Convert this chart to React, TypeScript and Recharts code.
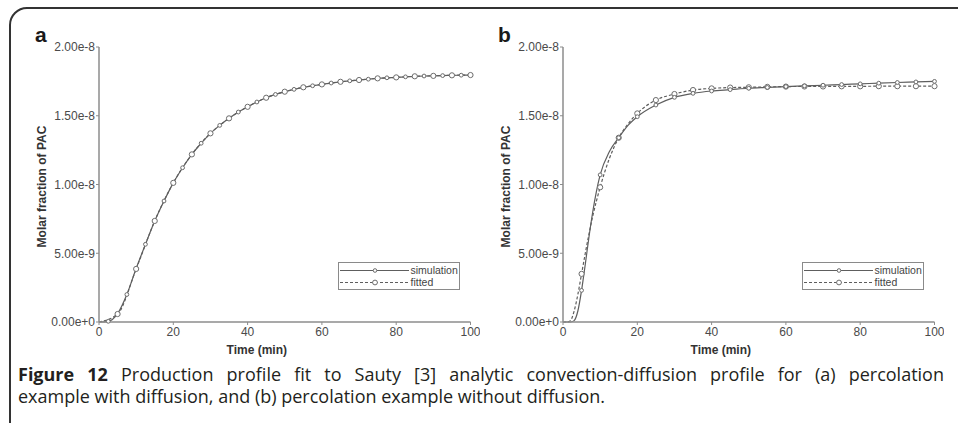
import React from 'react';
import { LineChart, Line, XAxis, YAxis } from 'recharts';

// ---- data (molar fraction in units of 1e-8) ----
const timeA = [0, 2.5, 5, 7.5, 10, 12.5, 15, 17.5, 20, 22.5, 25, 27.5, 30, 32.5, 35, 37.5, 40, 42.5, 45, 47.5, 50, 52.5, 55, 57.5, 60, 62.5, 65, 67.5, 70, 72.5, 75, 77.5, 80, 82.5, 85, 87.5, 90, 92.5, 95, 97.5, 100];
const simA = [0, 0.005, 0.061, 0.2, 0.389, 0.565, 0.735, 0.88, 1.012, 1.122, 1.219, 1.3, 1.372, 1.43, 1.481, 1.527, 1.565, 1.6, 1.631, 1.655, 1.675, 1.692, 1.707, 1.718, 1.728, 1.738, 1.747, 1.754, 1.76, 1.766, 1.772, 1.776, 1.779, 1.783, 1.787, 1.789, 1.79, 1.792, 1.794, 1.795, 1.796];
const fitTimeA = [0, 5, 10, 15, 20, 25, 30, 35, 40, 45, 50, 55, 60, 65, 70, 75, 80, 85, 90, 95, 100];
const fitA = [0, 0.058, 0.386, 0.735, 1.012, 1.219, 1.372, 1.481, 1.565, 1.631, 1.675, 1.707, 1.728, 1.747, 1.76, 1.772, 1.779, 1.787, 1.79, 1.794, 1.796];

const timeB = [0, 1, 2, 3, 4, 5, 6, 7, 8, 9, 10, 12.5, 15, 17.5, 20, 25, 30, 35, 40, 45, 50, 55, 60, 65, 70, 75, 80, 85, 90, 95, 100];
const simB = [0, 0, 0, 0.01, 0.08, 0.23, 0.42, 0.62, 0.8, 0.95, 1.07, 1.24, 1.34, 1.43, 1.493, 1.578, 1.634, 1.663, 1.68, 1.69, 1.7, 1.706, 1.712, 1.717, 1.722, 1.727, 1.732, 1.737, 1.742, 1.746, 1.75];
const fitB = [0, 0, 0.01, 0.08, 0.2, 0.35, 0.5, 0.64, 0.77, 0.88, 0.98, 1.19, 1.34, 1.44, 1.517, 1.614, 1.658, 1.687, 1.699, 1.705, 1.707, 1.71, 1.712, 1.713, 1.713, 1.714, 1.714, 1.715, 1.715, 1.715, 1.715];

const xTicks = [0, 20, 40, 60, 80, 100];
const yTicks = [0, 0.5, 1, 1.5, 2];
const yTickLabels = ['0.00e+0', '5.00e-9', '1.00e-8', '1.50e-8', '2.00e-8'];
const seriesNames = ['simulation', 'fitted'];
const panelLetters = ['a', 'b'];

const FONT = '"Liberation Sans", Arial, Helvetica, sans-serif';
const LINE = '#5e5e5e';
const MARK = '#6c6c6c';
const AXIS = '#8c8c8c';

const toRows = (ts: number[], vs: number[]) => vs.map((v, i) => ({ t: ts[i], v }));

const makeDot = (r: number, test: (t: number, i: number) => boolean) => (p: any) => {
  const { cx, cy, index, payload } = p;
  if (cx == null || cy == null || !test(payload.t, index)) return <g key={'e' + index} />;
  return <circle key={'d' + index} cx={cx} cy={cy} r={r} fill="#fff" stroke={MARK} strokeWidth={1} />;
};

const YTitle = (props: any) => {
  const vb = props.viewBox || { x: 0, y: 0, width: 99, height: 275 };
  const x = vb.x + vb.width - 57;
  const y = vb.y + vb.height / 2 + 2;
  return (
    <text x={x} y={y} transform={`rotate(-90, ${x}, ${y})`} textAnchor="middle" dominantBaseline="central"
      fontFamily={FONT} fontWeight="bold" fontSize={12} fill="#333">Molar fraction of PAC</text>
  );
};

const XTitle = (props: any) => {
  const vb = props.viewBox || { x: 99, y: 322, width: 371, height: 36 };
  return (
    <text x={vb.x + vb.width / 2 - 28} y={vb.y + 32} textAnchor="middle"
      fontFamily={FONT} fontWeight="bold" fontSize={12} fill="#333">Time (min)</text>
  );
};

function LegendBox({ left, top }: { left: number; top: number }) {
  return (
    <div style={{ position: 'absolute', left, top, width: 120, height: 26, border: '1px solid #8a8a8a', background: '#fff', fontFamily: FONT, fontSize: 10.5, color: '#444' }}>
      <svg width={120} height={26} style={{ position: 'absolute', left: 0, top: 0 }}>
        <line x1={1} x2={70} y1={7.5} y2={7.5} stroke={LINE} strokeWidth={1.2} />
        <circle cx={36} cy={7.5} r={1.8} fill="#fff" stroke={MARK} />
        <line x1={1} x2={70} y1={19.5} y2={19.5} stroke={LINE} strokeWidth={1.2} strokeDasharray="3 2" />
        <circle cx={36} cy={19.5} r={2.4} fill="#fff" stroke={MARK} />
        <text x={71.5} y={11.2} fontFamily={FONT} fontSize={10.5} fill="#444">{seriesNames[0]}</text>
        <text x={71.5} y={23.2} fontFamily={FONT} fontSize={10.5} fill="#444">{seriesNames[1]}</text>
      </svg>
    </div>
  );
}

function Panel({ left, sim, fit, simTest, fitTest, letter }: any) {
  return (
    <div style={{ position: 'absolute', left, top: 0, width: 480, height: 370 }}>
      <LineChart width={480} height={370} margin={{ top: 47, right: 9.5, bottom: 12, left: 0 }}>
        <XAxis xAxisId="top" orientation="top" type="number" dataKey="t" domain={[0, 100]} height={0} tick={false} tickLine={false} axisLine={{ stroke: AXIS, strokeWidth: 1.5 }} />
        <YAxis yAxisId="right" orientation="right" type="number" domain={[0, 2]} width={0} tick={false} tickLine={false} axisLine={{ stroke: AXIS, strokeWidth: 1.5 }} />
        <XAxis type="number" dataKey="t" domain={[0, 100]} ticks={xTicks} height={36} tickSize={3} tickMargin={2}
          axisLine={{ stroke: AXIS, strokeWidth: 1.5 }} tickLine={{ stroke: AXIS }}
          tick={{ fontFamily: FONT, fontSize: 12, fill: '#4a4a4a' }} label={<XTitle />} />
        <YAxis type="number" domain={[0, 2]} ticks={yTicks} width={99} tickSize={3} tickMargin={1}
          tickFormatter={(v: number) => yTickLabels[yTicks.indexOf(v)]}
          axisLine={{ stroke: AXIS, strokeWidth: 1.5 }} tickLine={{ stroke: AXIS }}
          tick={{ fontFamily: FONT, fontSize: 12, fill: '#4a4a4a' }} label={<YTitle />} />
        <Line data={fit} dataKey="v" type="monotone" stroke={LINE} strokeWidth={1.2} strokeDasharray="3 2"
          dot={makeDot(2.6, fitTest)} activeDot={false} isAnimationActive={false} name={seriesNames[1]} />
        <Line data={sim} dataKey="v" type="monotone" stroke={LINE} strokeWidth={1.2}
          dot={makeDot(1.9, simTest)} activeDot={false} isAnimationActive={false} name={seriesNames[0]} />
      </LineChart>
      <LegendBox left={338} top={262} />
      <div style={{ position: 'absolute', left: letter === 'a' ? 35 : 34, top: 23, fontFamily: FONT, fontWeight: 'bold', fontSize: 21, lineHeight: '24px', color: '#1a1a1a' }}>{letter}</div>
    </div>
  );
}

export default function App() {
  return (
    <div style={{ position: 'absolute', left: 0, top: 0, width: 958, height: 423, overflow: 'hidden', background: '#fff' }}>
      <div style={{ position: 'absolute', left: 8.5, top: 7, width: 1100, height: 600, border: '2px solid #333', borderTopLeftRadius: 18, boxSizing: 'border-box' }} />
      <Panel left={0} letter={panelLetters[0]} sim={toRows(timeA, simA)} fit={toRows(fitTimeA, fitA)}
        simTest={(t: number) => t % 5 !== 0} fitTest={(t: number) => t > 0} />
      <Panel left={464} letter={panelLetters[1]} sim={toRows(timeB, simB)} fit={toRows(timeB, fitB)}
        simTest={(t: number) => t > 0 && t % 5 === 0} fitTest={(t: number) => t > 0 && t % 5 === 0} />
      <div style={{ position: 'absolute', left: 18, top: 363, width: 926, fontFamily: '"Open Sans", "Noto Sans", sans-serif', fontSize: 18, lineHeight: '22px', color: '#231f20', whiteSpace: 'nowrap' }}>
        <div style={{ textAlign: 'justify', textAlignLast: 'justify' as any, whiteSpace: 'normal' }}><b>Figure 12</b> Production profile fit to Sauty [3] analytic convection-diffusion profile for (a) percolation</div>
        <div>example with diffusion, and (b) percolation example without diffusion.</div>
      </div>
    </div>
  );
}
